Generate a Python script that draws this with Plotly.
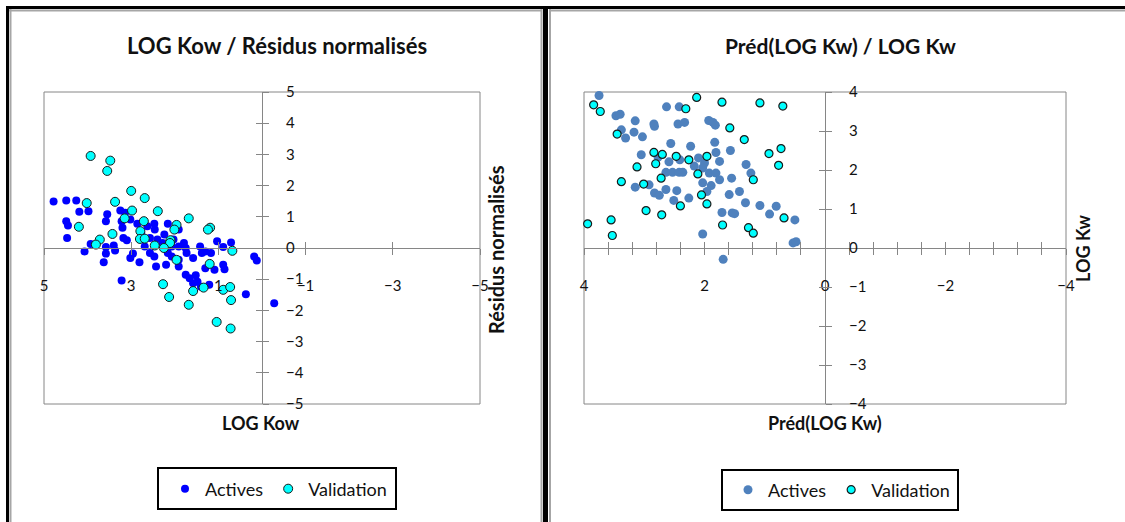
import plotly.graph_objects as go

# ---------------- DATA ----------------
# Left chart: LOG Kow (x) vs normalised residuals (y)
kow_actives_x = [4.78, 4.49, 4.26, 4.19, 3.98, 4.49, 4.45, 4.47, 3.55, 3.58, 3.25, 3.14, 3.22, 3.20,
                 3.02, 2.86, 2.63, 2.47, 2.46, 2.16, 1.91, 2.24, 2.57, 3.18, 3.10, 3.93, 4.07, 3.58,
                 3.40, 3.37, 3.58, 3.63, 3.02, 2.96, 2.81, 2.69, 2.57, 2.47, 2.43, 2.20, 2.28, 2.07,
                 1.91, 1.79, 1.75, 1.73, 1.91, 1.75, 1.58, 1.42, 1.38, 1.30, 1.17, 1.03, 0.89, 0.71,
                 1.30, 1.09, 0.89, 0.86, 1.52, 1.58, 1.48, 1.21, 1.40, 0.37, 0.18, 0.12, -0.28, 3.22,
                 2.03, 2.40, 2.77, 2.16, 2.07, 1.91, 1.66]
resid_actives_y = [1.49, 1.52, 1.52, 1.16, 1.18, 0.86, 0.72, 0.32, 1.08, 0.86, 1.20, 1.13, 0.86, 0.65,
                   0.91, 0.78, 0.70, 0.78, 0.59, 0.78, 0.59, 0.43, 0.32, 0.32, 0.25, 0.13, -0.11, 0.03,
                   0.08, -0.08, -0.18, -0.46, -0.32, -0.18, -0.46, 0.05, -0.16, -0.27, -0.59, -0.54, 0.16, 0.05,
                   0.05, 0.16, 0.00, -0.16, -0.59, -0.86, -0.32, 0.05, -0.16, -0.11, -0.16, 0.22, 0.03, 0.18,
                   -0.65, -0.70, -0.54, -0.68, -0.87, -1.13, -1.08, -1.18, -1.24, -1.48, -0.27, -0.40, -1.77, -1.04,
                   0.27, 0.27, 0.48, -0.16, -0.27, -0.38, -0.97]
kow_valid_x = [3.93, 3.48, 3.55, 3.00, 2.69, 4.02, 3.37, 2.98, 2.39, 1.68, 2.71, 3.15, 4.20, 1.96,
               2.01, 1.19, 1.24, 3.43, 2.79, 2.80, 2.69, 3.72, 3.81, 2.46, 2.10, 2.11, 2.25, 0.68,
               1.96, 1.20, 2.27, 2.13, 1.58, 1.34, 0.89, 0.73, 0.71, 1.68, 1.04, 0.72]
resid_valid_y = [2.95, 2.80, 2.47, 1.83, 1.60, 1.44, 1.48, 1.20, 1.18, 0.95, 0.86, 0.95, 0.68, 0.74,
                 0.59, 0.65, 0.59, 0.45, 0.54, 0.29, 0.30, 0.27, 0.11, 0.08, 0.25, 0.16, 0.00, -0.09,
                 -0.38, -0.51, -1.16, -1.57, -1.38, -1.27, -1.34, -1.25, -1.67, -1.82, -2.37, -2.58]

# Right chart: Préd(LOG Kw) (x) vs LOG Kw (y)
pred_actives_x = [3.75, 2.63, 2.42, 3.47, 3.40, 3.15, 2.84, 2.83, 2.44, 2.33, 1.93, 1.86, 1.82, 3.38,
                  3.17, 3.31, 3.03, 2.56, 2.23, 1.83, 1.57, 1.81, 3.05, 2.77, 2.59, 2.41, 2.10, 2.00,
                  1.75, 1.31, 1.23, 2.64, 2.53, 2.42, 2.03, 1.92, 1.81, 1.75, 1.55, 2.03, 1.89, 3.15,
                  2.92, 2.64, 2.83, 2.75, 2.46, 2.51, 2.26, 1.59, 1.42, 1.32, 1.08, 0.81, 0.92, 1.71,
                  1.54, 1.50, 0.50, 2.03, 0.53, 0.48, 1.69, 2.36, 2.17, 1.96]
logkw_actives_y = [3.91, 3.62, 3.62, 3.39, 3.43, 3.26, 3.18, 3.12, 3.18, 3.22, 3.27, 3.22, 3.15, 3.03,
                   2.97, 2.82, 2.85, 2.68, 2.61, 2.71, 2.50, 2.45, 2.39, 2.33, 2.21, 2.26, 2.31, 2.18,
                   2.22, 2.14, 1.92, 1.94, 1.94, 1.94, 2.05, 1.92, 1.92, 1.75, 1.79, 1.67, 1.60, 1.56,
                   1.62, 1.50, 1.41, 1.35, 1.47, 1.22, 1.28, 1.37, 1.45, 1.16, 1.09, 1.07, 0.87, 0.91,
                   0.90, 0.88, 0.72, 0.36, 0.13, 0.16, -0.29, 1.94, 2.10, 1.45]
pred_valid_x = [3.84, 3.73, 2.13, 1.71, 1.08, 0.70, 2.31, 3.45, 1.58, 1.34, 0.73, 0.93, 0.77, 2.84,
                2.70, 2.81, 3.12, 2.47, 2.26, 1.96, 2.11, 2.72, 3.38, 3.01, 1.19, 2.05, 1.96, 2.97,
                2.40, 2.71, 0.68, 3.94, 3.55, 1.70, 3.53, 1.27, 1.19]
logkw_valid_y = [3.67, 3.50, 3.86, 3.74, 3.72, 3.64, 3.57, 2.92, 3.08, 2.78, 2.55, 2.42, 2.12, 2.45,
                 2.40, 2.16, 2.08, 2.35, 2.26, 2.35, 1.90, 1.79, 1.70, 1.64, 1.75, 1.36, 1.13, 0.96,
                 1.08, 0.85, 0.77, 0.62, 0.72, 0.59, 0.32, 0.52, 0.38]

series_names = ["Actives", "Validation"]
titles = ["LOG Kow / Résidus normalisés", "Préd(LOG Kw) / LOG Kw"]
axis_titles = [("LOG Kow", "Résidus normalisés"), ("Préd(LOG Kw)", "LOG Kw")]

# ---------------- STYLE / LAYOUT ----------------
W, H = 1125, 522
FONT = "Lato"
GREY = "#868686"
TXT = "#111111"


def px(x):
    return x / W


def py(y):
    return 1 - y / H


dom_y = [py(404), py(92)]
L_dom_x = [px(44), px(480)]
R_dom_x = [px(584), px(1066)]
L_xr, L_yr = [5, -5], [-5, 5]
R_xr, R_yr = [4, -4], [-4, 4]


def zero_pos(dom, rng):
    return dom[0] + (0 - rng[0]) / (rng[1] - rng[0]) * (dom[1] - dom[0])


fig = go.Figure()

fig.add_trace(go.Scatter(x=kow_actives_x, y=resid_actives_y, mode="markers", name=series_names[0],
                         marker=dict(color="#0000FF", size=8, line=dict(width=0)),
                         xaxis="x", yaxis="y", legend="legend", cliponaxis=False))
fig.add_trace(go.Scatter(x=kow_valid_x, y=resid_valid_y, mode="markers", name=series_names[1],
                         marker=dict(color="#00FFFF", size=9, line=dict(width=1, color="#1a1a1a")),
                         xaxis="x", yaxis="y", legend="legend", cliponaxis=False))
fig.add_trace(go.Scatter(x=pred_actives_x, y=logkw_actives_y, mode="markers", name=series_names[0],
                         marker=dict(color="#4F81BD", size=9, line=dict(width=0)),
                         xaxis="x2", yaxis="y2", legend="legend2", cliponaxis=False))
fig.add_trace(go.Scatter(x=pred_valid_x, y=logkw_valid_y, mode="markers", name=series_names[1],
                         marker=dict(color="#00FFFF", size=8, line=dict(width=1.2, color="#1a1a1a")),
                         xaxis="x2", yaxis="y2", legend="legend2", cliponaxis=False))
# empty traces so the overlay (inner tick) axes are drawn
for xa, ya in (("x3", "y3"), ("x4", "y4")):
    fig.add_trace(go.Scatter(x=[], y=[], xaxis=xa, yaxis=ya, showlegend=False, hoverinfo="skip"))

tickfont = dict(family=FONT, size=15, color=TXT)


def xax(dom, xr, yr, dtick, tick0, main=True, minor=None):
    d = dict(domain=dom, range=xr, anchor="free", position=zero_pos(dom_y, yr),
             tickmode="linear", tick0=tick0, dtick=dtick, ticklen=6, tickwidth=1, tickcolor=GREY,
             showgrid=False, zeroline=False, automargin=False, fixedrange=True)
    if main:
        d.update(showline=True, linecolor=GREY, linewidth=1, ticks="outside",
                 showticklabels=True, tickfont=tickfont, ticklabelstandoff=18)
        if minor:
            d["minor"] = dict(dtick=minor, tick0=0, ticks="outside", ticklen=6, tickcolor=GREY, tickwidth=1)
    else:
        d.update(showline=False, ticks="inside", showticklabels=False)
    return d


def yax(dom_x, xr, yr, main=True):
    d = dict(domain=dom_y, range=yr, anchor="free", position=zero_pos(dom_x, xr), side="right",
             tickmode="linear", tick0=0, dtick=1, ticklen=6, tickwidth=1, tickcolor=GREY,
             showgrid=False, zeroline=False, automargin=False, fixedrange=True)
    if main:
        d.update(showline=True, linecolor=GREY, linewidth=1, ticks="outside",
                 showticklabels=True, tickfont=tickfont, ticklabelstandoff=14)
    else:
        d.update(showline=False, ticks="inside", showticklabels=False)
    return d


x3 = xax(L_dom_x, L_xr, L_yr, 2, 5, main=False)
x3["overlaying"] = "x"
y3 = yax(L_dom_x, L_xr, L_yr, main=False)
y3["overlaying"] = "y"
x4 = xax(R_dom_x, R_xr, R_yr, 0.4, 0, main=False)
x4["overlaying"] = "x2"
y4 = yax(R_dom_x, R_xr, R_yr, main=False)
y4["overlaying"] = "y2"

legend_font = dict(family=FONT, size=18, color=TXT)
fig.update_layout(
    width=W, height=H, margin=dict(l=0, r=0, t=0, b=0),
    paper_bgcolor="white", plot_bgcolor="white",
    font=dict(family=FONT, color=TXT),
    xaxis=xax(L_dom_x, L_xr, L_yr, 2, 5),
    yaxis=yax(L_dom_x, L_xr, L_yr),
    xaxis2=xax(R_dom_x, R_xr, R_yr, 2, 0, minor=0.4),
    yaxis2=yax(R_dom_x, R_xr, R_yr),
    xaxis3=x3, yaxis3=y3, xaxis4=x4, yaxis4=y4,
    legend=dict(orientation="h", x=px(165), y=py(489), xanchor="left", yanchor="middle",
                font=legend_font, bgcolor="rgba(0,0,0,0)", borderwidth=0, itemwidth=30),
    legend2=dict(orientation="h", x=px(728), y=py(490), xanchor="left", yanchor="middle",
                 font=legend_font, bgcolor="rgba(0,0,0,0)", borderwidth=0, itemwidth=30),
    hovermode=False,
)

# titles and axis titles
ann = [
    dict(text="<b>%s</b>" % titles[0], x=px(277), y=py(46), size=22, angle=0),
    dict(text="<b>%s</b>" % titles[1], x=px(840), y=py(46), size=21, angle=0),
    dict(text="<b>%s</b>" % axis_titles[0][0], x=px(261), y=py(423), size=18, angle=0),
    dict(text="<b>%s</b>" % axis_titles[0][1], x=px(496), y=py(250), size=20, angle=-90),
    dict(text="<b>%s</b>" % axis_titles[1][0], x=px(825), y=py(423), size=18, angle=0),
    dict(text="<b>%s</b>" % axis_titles[1][1], x=px(1083), y=py(249), size=18, angle=-90),
]
for a in ann:
    fig.add_annotation(text=a["text"], x=a["x"], y=a["y"], xref="paper", yref="paper",
                       xanchor="center", yanchor="middle", showarrow=False, textangle=a["angle"],
                       font=dict(family=FONT, size=a["size"], color=TXT))

# plot-area frames
for xr_, yr_ in (("x domain", "y domain"), ("x2 domain", "y2 domain")):
    fig.add_shape(type="rect", xref=xr_, yref=yr_, x0=0, x1=1, y0=0, y1=1,
                  line=dict(color=GREY, width=1), fillcolor="rgba(0,0,0,0)", layer="below")

# chart-object borders and legend boxes (paper decorations)
deco = [
    ("line", 6, 7.5, 1125, 7.5, "black", 3),
    ("line", 7.5, 6, 7.5, 522, "black", 3),
    ("line", 545.5, 6, 545.5, 522, "black", 5),
    ("line", 9, 10.5, 542, 10.5, "#A6A6A6", 2),
    ("line", 10.5, 9, 10.5, 522, "#A6A6A6", 2),
    ("line", 541.5, 9, 541.5, 522, "#A6A6A6", 2),
    ("line", 549, 10.5, 1125, 10.5, "#A6A6A6", 2),
    ("line", 550, 9, 550, 522, "#A6A6A6", 2),
    ("rect", 158, 468, 396, 509, "black", 2),
    ("rect", 722, 470, 958, 510, "black", 2),
]
for kind, xa, ya, xb, yb, col, w in deco:
    fig.add_shape(type=kind, xref="paper", yref="paper", x0=px(xa), y0=py(ya), x1=px(xb), y1=py(yb),
                  line=dict(color=col, width=w))

fig.write_html("out.html", config={"displayModeBar": False, "staticPlot": True},
               post_script="document.body.style.margin='0';document.body.style.overflow='hidden';")
